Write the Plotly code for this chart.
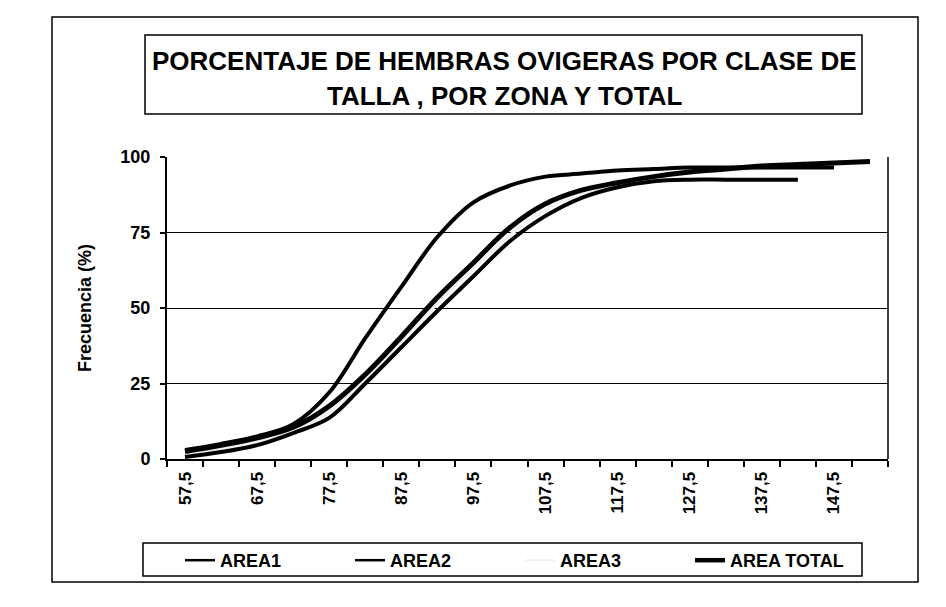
import plotly.graph_objects as go

# Size classes (mm) and cumulative share of ovigerous females (%)
talla = [57.5, 62.5, 67.5, 72.5, 77.5, 82.5, 87.5, 92.5, 97.5, 102.5,
         107.5, 112.5, 117.5, 122.5, 127.5, 132.5, 137.5, 142.5, 147.5, 152.5]

area1 = [3.0, 5.0, 7.5, 11.5, 22.0, 40.0, 57.0, 73.5, 85.0, 90.5,
         93.5, 94.5, 95.5, 96.0, 96.5, 96.5, 96.5, 96.5, 96.5, None]
area2 = [0.7, 2.3, 4.6, 8.6, 13.6, 25.0, 37.0, 49.0, 60.5, 72.0,
         80.5, 86.5, 90.0, 92.0, 92.5, 92.5, 92.5, 92.5, None, None]
area3 = [1.5, 3.5, 6.0, 9.5, 15.5, 26.5, 39.0, 51.5, 63.0, 74.0,
         82.5, 88.0, 91.0, 93.0, 94.5, 95.5, 96.0, 96.5, 97.0, None]
area_total = [2.5, 4.5, 7.0, 10.5, 17.5, 28.0, 40.5, 53.5, 65.0, 76.5,
              84.5, 89.0, 91.5, 93.5, 95.0, 96.0, 97.0, 97.5, 98.0, 98.5]

x_labels = [57.5, 67.5, 77.5, 87.5, 97.5, 107.5, 117.5, 127.5, 137.5, 147.5]
y_ticks = [0, 25, 50, 75, 100]

TITLE_1 = "PORCENTAJE DE HEMBRAS OVIGERAS POR CLASE DE"
TITLE_2 = "TALLA , POR ZONA Y TOTAL"

W, H = 946, 607
L, R, T, B = 167, 58, 157, 148
PW, PH = W - L - R, H - T - B


def px(xp):
    return (xp - L) / PW


def py(yp):
    return (H - B - yp) / PH


FONT = "Liberation Sans, Arial, sans-serif"

fig = go.Figure()

# name, values, colour, curve width, legend-key width, legend order
series = [
    ("AREA3", area3, "#f1f1f1", 3, 2, 3),
    ("AREA1", area1, "black", 4, 2.5, 1),
    ("AREA2", area2, "black", 4, 2.5, 2),
    ("AREA TOTAL", area_total, "black", 5, 4.5, 4),
]
for name, vals, color, width, key_width, rank in series:
    fig.add_trace(go.Scatter(
        x=talla, y=vals, name=name, mode="lines", legendgroup=name,
        showlegend=False,
        line=dict(color=color, width=width, shape="spline", smoothing=1.0),
        connectgaps=False,
    ))
    # legend key with its own line weight
    fig.add_trace(go.Scatter(
        x=[None], y=[None], name=name, mode="lines", legendgroup=name,
        line=dict(color=color, width=key_width), legendrank=rank,
    ))

fig.update_layout(
    width=W, height=H,
    margin=dict(l=L, r=R, t=T, b=B, autoexpand=False),
    paper_bgcolor="white", plot_bgcolor="white",
    separators=",.",
    font=dict(family=FONT, color="black"),
    showlegend=True,
    legend=dict(
        orientation="h", x=px(180), xanchor="left", y=py(542), yanchor="top",
        font=dict(size=18, family=FONT, weight="bold"),
        entrywidth=125, entrywidthmode="pixels",
        bgcolor="rgba(0,0,0,0)", borderwidth=0,
    ),
    xaxis=dict(
        range=[55, 155], showgrid=False, zeroline=False,
        showline=True, linecolor="black", linewidth=2,
        tickmode="array", tickvals=x_labels,
        ticktext=[f"{v:.1f}".replace(".", ",") for v in x_labels],
        ticks="", tickangle=-90, ticklabelstandoff=4,
        tickfont=dict(size=17, family=FONT, weight="bold"),
        minor=dict(tick0=55, dtick=5, ticks="outside", ticklen=6,
                   tickwidth=1.5, tickcolor="black", showgrid=False),
    ),
    yaxis=dict(
        range=[0, 100], tickmode="array", tickvals=y_ticks,
        showgrid=True, gridcolor="black", gridwidth=1,
        zeroline=False, showline=True, linecolor="black", linewidth=2,
        ticks="outside", ticklen=5, tickwidth=1.5, tickcolor="black",
        ticklabelstandoff=6,
        tickfont=dict(size=18, family=FONT, weight="bold"),
        title=dict(text="Frecuencia (%)", standoff=24,
                   font=dict(size=18, family=FONT, weight="bold")),
    ),
)

shapes = [
    # outer chart frame
    dict(type="rect", xref="paper", yref="paper",
         x0=px(52), x1=px(918), y0=py(582), y1=py(17),
         line=dict(color="black", width=1.5)),
    # plot area right edge
    dict(type="line", xref="paper", yref="paper",
         x0=1, x1=1, y0=0, y1=1, line=dict(color="black", width=1.5)),
    # title frame
    dict(type="rect", xref="paper", yref="paper",
         x0=px(145), x1=px(862), y0=py(114), y1=py(35),
         line=dict(color="black", width=1.5)),
    # legend frame
    dict(type="rect", xref="paper", yref="paper",
         x0=px(143), x1=px(862), y0=py(576), y1=py(543),
         line=dict(color="black", width=1.5)),
]
fig.update_layout(shapes=shapes)

for text, yp in ((TITLE_1, 61), (TITLE_2, 96)):
    fig.add_annotation(xref="paper", yref="paper", x=px(504), y=py(yp),
                       xanchor="center", yanchor="middle",
                       text=f"<b>{text}</b>", showarrow=False,
                       font=dict(size=26, family=FONT, color="black"))

fig.write_html("out.html")
